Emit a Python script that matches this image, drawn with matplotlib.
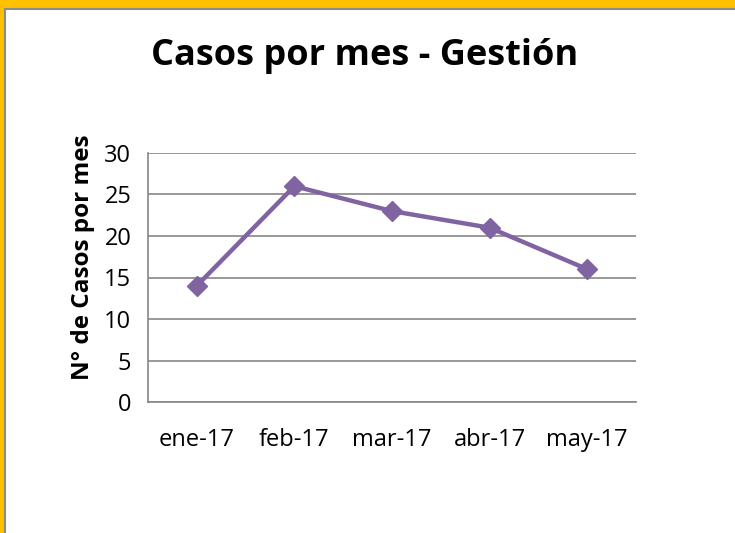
import matplotlib.pyplot as plt
from matplotlib.patches import Rectangle
from matplotlib.lines import Line2D

meses = ['ene-17', 'feb-17', 'mar-17', 'abr-17', 'may-17']
casos = [14, 26, 23, 21, 16]
yticks = [0, 5, 10, 15, 20, 25, 30]

plt.rcParams['font.family'] = ['Open Sans', 'DejaVu Sans']

fig = plt.figure(figsize=(7.35, 5.33), dpi=100)
W, H = 735, 533

# marco amarillo (arriba e izquierda) con linea gris
fig.patches.append(Rectangle((0, 1 - 8 / H), 1, 8 / H, transform=fig.transFigure,
                             color='#FFC000', zorder=0))
fig.patches.append(Rectangle((0, 0), 4 / W, 1, transform=fig.transFigure,
                             color='#FFC000', zorder=0))
fig.lines.append(Line2D([5 / W, 1], [1 - 9 / H, 1 - 9 / H], transform=fig.transFigure,
                        color='#8C8C8C', lw=1.5))
fig.lines.append(Line2D([5 / W, 5 / W], [0, 1 - 9 / H], transform=fig.transFigure,
                        color='#8C8C8C', lw=1.5))

ax = fig.add_axes([148 / W, 1 - 402 / H, (636 - 148) / W, (402 - 153) / H])
x = range(len(meses))
ax.plot(x, casos, color='#8064A2', lw=3.2, marker='D', markersize=10, zorder=3)

ax.set_xlim(-0.5, len(meses) - 0.5)
ax.set_ylim(0, 30)
ax.set_yticks(yticks)
ax.set_xticks(list(x))
ax.set_xticklabels(meses)
ax.tick_params(axis='both', length=0, labelsize=17, colors='black')
ax.tick_params(axis='y', pad=12)
ax.tick_params(axis='x', pad=19)
ax.grid(axis='y', color='#868686', lw=1.2)
ax.set_axisbelow(True)
for s in ['top', 'right']:
    ax.spines[s].set_visible(False)
for s in ['left', 'bottom']:
    ax.spines[s].set_color('#868686')
    ax.spines[s].set_linewidth(1.2)

ax.set_ylabel('N° de Casos por mes', fontsize=17.5, fontweight='bold')
ax.yaxis.set_label_coords(-0.109, 0.582)
fig.text(365 / W, 1 - 56 / H, 'Casos por mes - Gestión', fontsize=26,
         fontweight='bold', ha='center', va='center')

fig.savefig('out.png', dpi=100)
